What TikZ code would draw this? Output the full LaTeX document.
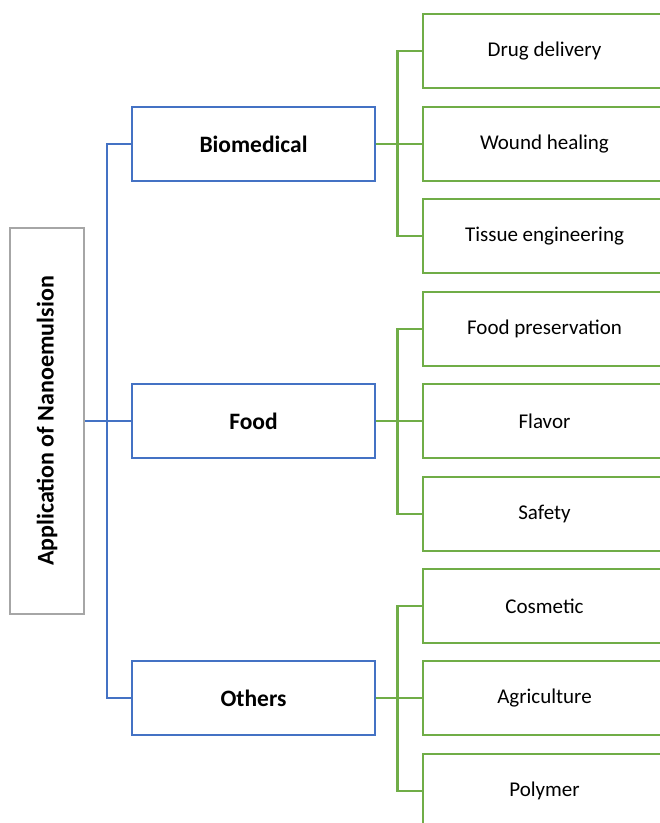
\documentclass[tikz,border=0pt]{standalone}
\usepackage{fontspec}
\setmainfont{Carlito}
\definecolor{cblue}{HTML}{4472C4}
\definecolor{cgreen}{HTML}{70AD47}
\definecolor{cgray}{HTML}{A6A6A6}
\tikzset{
  rootbox/.style={draw=cgray, line width=2.5pt, minimum width=74pt, minimum height=386pt, inner sep=0pt, font=\bfseries\fontsize{24}{28}\selectfont},
  catbox/.style={draw=cblue, line width=2.5pt, minimum width=243pt, minimum height=74pt, inner sep=0pt, font=\bfseries\fontsize{23.5}{28}\selectfont},
  leafbox/.style={draw=cgreen, line width=2.7pt, minimum width=243pt, minimum height=74pt, inner sep=0pt, font=\fontsize{21}{25}\selectfont},
  blink/.style={draw=cblue, line width=2.5pt},
  glink/.style={draw=cgreen, line width=2.7pt},
}
\begin{document}
\begin{tikzpicture}[x=1pt,y=-1pt]
\useasboundingbox (0,0) rectangle (660,823);
\clip (0,0) rectangle (660,823);
\fill[white] (0,0) rectangle (660,823);
\node[rootbox] (root) at (47,421) {\rotatebox{90}{Application of Nanoemulsion}};
\node[catbox] (bio) at (253.5,144) {Biomedical};
\node[catbox] (food) at (253.5,421) {Food};
\node[catbox] (oth) at (253.5,698) {Others};
\node[leafbox] (l1) at (544.5,51) {Drug delivery};
\node[leafbox] (l2) at (544.5,144) {Wound healing};
\node[leafbox] (l3) at (544.5,236) {Tissue engineering};
\node[leafbox] (l4) at (544.5,329) {Food preservation};
\node[leafbox] (l5) at (544.5,421) {Flavor};
\node[leafbox] (l6) at (544.5,514) {Safety};
\node[leafbox] (l7) at (544.5,606) {Cosmetic};
\node[leafbox] (l8) at (544.5,698) {Agriculture};
\node[leafbox] (l9) at (544.5,791) {Polymer};
\draw[blink] (root.east) -- (food.west);
\draw[blink] (bio.west) -- ++(-24,0) |- (oth.west);
\draw[glink] (bio.east) -- (l2.west);
\draw[glink] (l1.west) -- ++(-24,0) |- (l3.west);
\draw[glink] (food.east) -- (l5.west);
\draw[glink] (l4.west) -- ++(-24,0) |- (l6.west);
\draw[glink] (oth.east) -- (l8.west);
\draw[glink] (l7.west) -- ++(-24,0) |- (l9.west);
\end{tikzpicture}
\end{document}
